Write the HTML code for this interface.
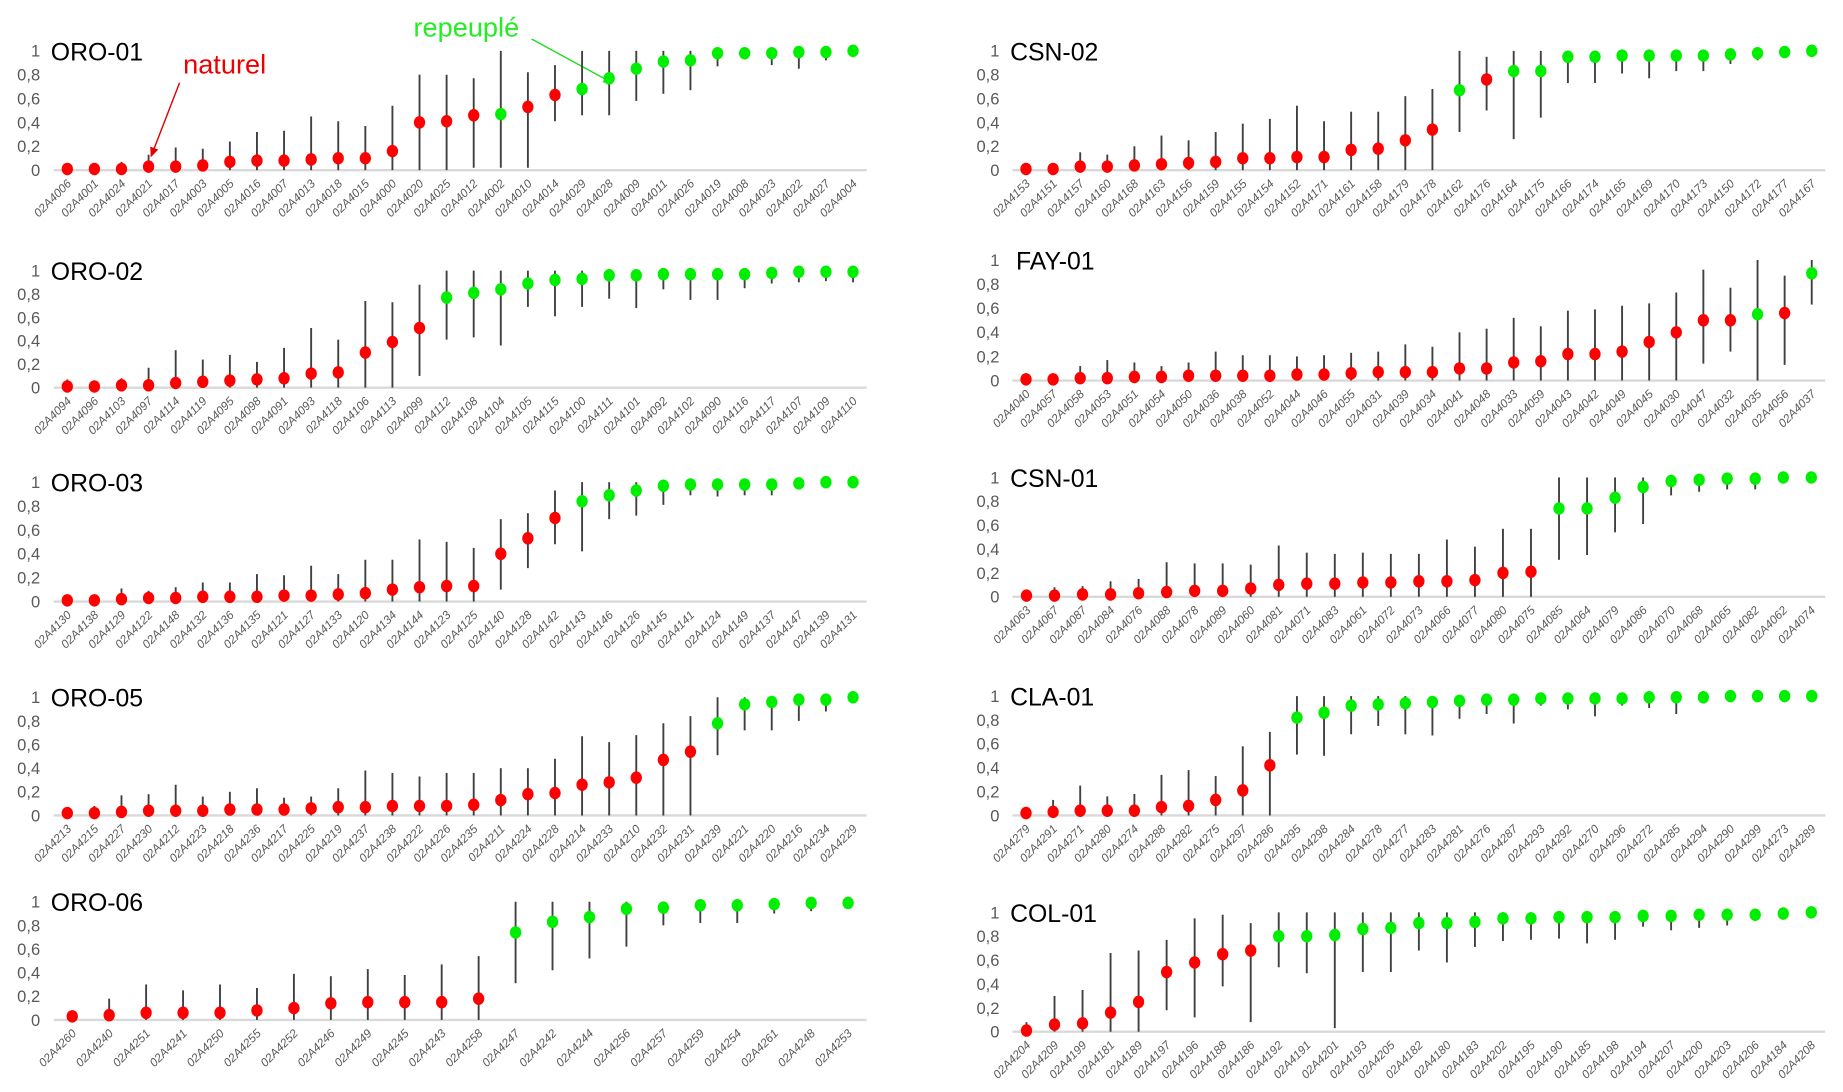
<!DOCTYPE html>
<html><head><meta charset="utf-8"><style>
html,body{margin:0;padding:0;background:#fff;}
svg{display:block;}
</style></head><body>
<svg id="s" width="1843" height="1092" viewBox="0 0 1560 924" preserveAspectRatio="none" xmlns="http://www.w3.org/2000/svg" font-family="Liberation Sans, sans-serif">
<defs>
<marker id="ar" markerWidth="8" markerHeight="8" refX="6" refY="3" orient="auto"><path d="M0,0 L7,3 L0,6 z" fill="#e00000"/></marker>
<marker id="ag" markerWidth="8" markerHeight="8" refX="6" refY="3" orient="auto"><path d="M0,0 L7,3 L0,6 z" fill="#22dd22"/></marker>
</defs>
<text x="155" y="62" font-size="23" fill="#ee0000">naturel</text>
<line x1="152" y1="70" x2="128" y2="132" stroke="#e00000" stroke-width="1.2" marker-end="url(#ar)"/>
<text x="350" y="31" font-size="23" fill="#22ee22">repeuplé</text>
<line x1="450" y1="33" x2="518" y2="70" stroke="#22dd22" stroke-width="1.2" marker-end="url(#ag)"/>
</svg>
<script>
var P=[
{n:"ORO-01",c:0,y0:144,y1:43,L:"4006 4001 4024 4021 4017 4003 4005 4016 4007 4013 4018 4015 4000 4020 4025 4012 4002 4010 4014 4029 4028 4009 4011 4026 4019 4008 4023 4022 4027 4004",
d:"r .01 0 .05;r .01 0 .06;r .01 0 .07;r .03 0 .13;r .03 0 .19;r .04 0 .18;r .07 0 .24;r .08 0 .32;r .08 0 .33;r .09 0 .45;r .10 0 .41;r .10 0 .37;r .16 0 .54;r .40 0 .80;r .41 0 .80;r .46 .02 .77;g .47 .02 1;r .53 .02 .82;r .63 .41 .88;g .68 .46 1;g .77 .46 1;g .85 .58 1;g .91 .64 1;g .92 .67 1;g .98 .87 1;g .98 .94 1;g .98 .88 1;g .99 .85 1;g .99 .92 1;g 1 .98 1"},
{n:"ORO-02",c:0,y0:328,y1:229,L:"4094 4096 4103 4097 4114 4119 4095 4098 4091 4093 4118 4106 4113 4099 4112 4108 4104 4105 4115 4100 4111 4101 4092 4102 4090 4116 4117 4107 4109 4110",
d:"r .01 0 .07;r .01 0 .06;r .02 0 .08;r .02 0 .17;r .04 0 .32;r .05 0 .24;r .06 0 .28;r .07 0 .22;r .08 0 .34;r .12 0 .51;r .13 0 .41;r .30 0 .74;r .39 0 .73;r .51 .10 .88;g .77 .41 1;g .81 .43 1;g .84 .36 1;g .89 .69 1;g .92 .61 1;g .93 .69 1;g .96 .76 1;g .96 .68 1;g .97 .84 1;g .97 .75 1;g .97 .75 1;g .97 .85 1;g .98 .89 1;g .99 .90 1;g .99 .91 1;g .99 .90 1"},
{n:"ORO-03",c:0,y0:509,y1:408,L:"4130 4138 4129 4122 4148 4132 4136 4135 4121 4127 4133 4120 4134 4144 4123 4125 4140 4128 4142 4143 4146 4126 4145 4141 4124 4149 4137 4147 4139 4131",
d:"r .01 0 .03;r .01 0 .05;r .02 0 .11;r .03 0 .09;r .03 0 .12;r .04 0 .16;r .04 0 .16;r .04 0 .23;r .05 0 .22;r .05 0 .30;r .06 0 .23;r .07 0 .35;r .10 0 .35;r .12 0 .52;r .13 0 .50;r .13 0 .45;r .40 .10 .69;r .53 .28 .74;r .70 .48 .93;g .84 .42 1;g .89 .69 1;g .93 .72 1;g .97 .81 1;g .98 .89 1;g .98 .88 1;g .98 .89 1;g .98 .89 1;g .99 .99 1;g 1 1 1;g 1 1 1"},
{n:"ORO-05",c:0,y0:690,y1:590,L:"4213 4215 4227 4230 4212 4223 4218 4236 4217 4225 4219 4237 4238 4222 4226 4235 4211 4224 4228 4214 4233 4210 4232 4231 4239 4221 4220 4216 4234 4229",
d:"r .02 0 .05;r .02 0 .08;r .03 0 .17;r .04 0 .18;r .04 0 .26;r .04 0 .16;r .05 0 .20;r .05 0 .23;r .05 0 .15;r .06 0 .16;r .07 0 .23;r .07 0 .38;r .08 0 .36;r .08 0 .33;r .08 0 .36;r .09 0 .36;r .13 0 .40;r .18 0 .40;r .19 0 .48;r .26 0 .67;r .28 0 .62;r .32 0 .68;r .47 0 .78;r .54 0 .84;g .78 .51 1;g .94 .72 1;g .96 .72 1;g .98 .80 1;g .98 .88 1;g 1 .97 1"},
{n:"ORO-06",c:0,y0:863,y1:763,L:"4260 4240 4251 4241 4250 4255 4252 4246 4249 4245 4243 4258 4247 4242 4244 4256 4257 4259 4254 4261 4248 4253",
d:"r .03 0 .08;r .04 0 .18;r .06 0 .30;r .06 0 .25;r .06 0 .30;r .08 0 .27;r .10 0 .39;r .14 0 .37;r .15 0 .43;r .15 0 .38;r .15 0 .47;r .18 0 .54;g .74 .31 1;g .83 .42 1;g .87 .52 1;g .94 .62 1;g .95 .80 1;g .97 .82 1;g .97 .82 1;g .98 .90 1;g .99 .92 1;g .99 .95 1"},
{n:"CSN-02",c:1,y0:144,y1:43,L:"4153 4151 4157 4160 4168 4163 4156 4159 4155 4154 4152 4171 4161 4158 4179 4178 4162 4176 4164 4175 4166 4174 4165 4169 4170 4173 4150 4172 4177 4167",
d:"r .01 0 .03;r .01 0 .06;r .03 0 .15;r .03 0 .13;r .04 0 .20;r .05 0 .29;r .06 0 .25;r .07 0 .32;r .10 0 .39;r .10 0 .43;r .11 0 .54;r .11 0 .41;r .17 0 .49;r .18 0 .49;r .25 0 .62;r .34 0 .68;g .67 .32 1;r .76 .50 .95;g .83 .26 1;g .83 .44 1;g .95 .73 1;g .95 .73 1;g .96 .81 1;g .96 .77 1;g .96 .83 1;g .96 .83 1;g .97 .89 1;g .98 .92 1;g .99 .95 1;g 1 .99 1"},
{n:"FAY-01",c:1,y0:322,y1:220,tx:860,L:"4040 4057 4058 4053 4051 4054 4050 4036 4038 4052 4044 4046 4055 4031 4039 4034 4041 4048 4033 4059 4043 4042 4049 4045 4030 4047 4032 4035 4056 4037",
d:"r .01 0 .06;r .01 0 .06;r .02 0 .12;r .02 0 .17;r .03 0 .15;r .03 0 .12;r .04 0 .15;r .04 0 .24;r .04 0 .21;r .04 0 .21;r .05 0 .20;r .05 0 .21;r .06 0 .23;r .07 0 .24;r .07 0 .30;r .07 0 .28;r .10 0 .40;r .10 0 .43;r .15 0 .52;r .16 0 .45;r .22 0 .58;r .22 0 .59;r .24 0 .62;r .32 0 .64;r .40 0 .73;r .50 .14 .92;r .50 .24 .77;g .55 0 1;r .56 .13 .87;g .89 .63 1"},
{n:"CSN-01",c:1,y0:505,y1:404,L:"4063 4067 4087 4084 4076 4088 4078 4089 4060 4081 4071 4083 4061 4072 4073 4066 4077 4080 4075 4085 4064 4079 4086 4070 4068 4065 4082 4062 4074",
d:"r .01 0 .04;r .01 0 .08;r .02 0 .09;r .02 0 .13;r .03 0 .15;r .04 0 .29;r .05 0 .28;r .05 0 .28;r .07 0 .27;r .10 0 .43;r .11 0 .37;r .11 0 .36;r .12 0 .37;r .12 0 .36;r .13 0 .36;r .13 0 .48;r .14 0 .42;r .20 0 .57;r .21 0 .57;g .74 .31 1;g .74 .35 1;g .83 .54 1;g .92 .61 1;g .97 .85 1;g .98 .88 1;g .99 .90 1;g .99 .90 1;g 1 .96 1;g 1 1 1"},
{n:"CLA-01",c:1,y0:690,y1:589,L:"4279 4291 4271 4280 4274 4288 4282 4275 4297 4286 4295 4298 4284 4278 4277 4283 4281 4276 4287 4293 4292 4270 4296 4272 4285 4294 4290 4299 4273 4289",
d:"r .02 0 .07;r .03 0 .13;r .04 0 .25;r .04 0 .16;r .04 0 .18;r .07 0 .34;r .08 0 .38;r .13 0 .33;r .21 0 .58;r .42 0 .70;g .82 .51 1;g .86 .50 1;g .92 .68 1;g .93 .75 1;g .94 .68 1;g .95 .67 1;g .96 .81 1;g .97 .85 1;g .97 .77 1;g .98 .92 1;g .98 .89 1;g .98 .83 1;g .98 .92 1;g .99 .90 1;g .99 .85 1;g .99 .95 1;g 1 .97 1;g 1 .97 1;g 1 .95 1;g 1 .98 1"},
{n:"COL-01",c:1,y0:873,y1:772,L:"4204 4209 4199 4181 4189 4197 4196 4188 4186 4192 4191 4201 4193 4205 4182 4180 4183 4202 4195 4190 4185 4198 4194 4207 4200 4203 4206 4184 4208",
d:"r .01 0 .08;r .06 0 .30;r .07 0 .35;r .16 0 .66;r .25 0 .68;r .50 .18 .77;r .58 .12 .95;r .65 .38 .98;r .68 .08 .91;g .80 .54 1;g .80 .49 1;g .81 .03 1;g .86 .50 1;g .87 .50 1;g .91 .68 1;g .91 .58 1;g .92 .71 1;g .95 .76 1;g .95 .77 1;g .96 .78 1;g .96 .74 1;g .96 .77 1;g .97 .88 1;g .97 .85 1;g .98 .87 1;g .98 .89 1;g .98 .93 1;g .99 .94 1;g 1 .97 1"}
];
var h="";
P.forEach(function(p){
 var ax=p.c?857:45.5, W=688, lab=p.c?846:34;
 var L=p.L.split(" "), D=p.d.split(";"), n=L.length, st=W/n;
 function Y(v){return p.y0-(p.y0-p.y1)*v;}
 h+='<line x1="'+ax+'" y1="'+p.y0+'" x2="'+(ax+W)+'" y2="'+p.y0+'" stroke="#d9d9d9" stroke-width="2"/>';
 ["0","0,2","0,4","0,6","0,8","1"].forEach(function(t,i){
  h+='<text x="'+lab+'" y="'+(Y(i*0.2)+5)+'" font-size="14" fill="#595959" text-anchor="end">'+t+'</text>';});
 h+='<text x="'+(p.tx||(p.c?855:43))+'" y="'+(p.y1+8)+'" font-size="21" fill="#000">'+p.n+'</text>';
 for(var i=0;i<n;i++){
  var x=ax+(i+0.5)*st, a=D[i].split(" "), v=+a[1], lo=+a[2], hi=+a[3];
  h+='<line x1="'+x+'" y1="'+Y(lo)+'" x2="'+x+'" y2="'+Y(hi)+'" stroke="#404040" stroke-width="1.6"/>';
  h+='<ellipse cx="'+x+'" cy="'+Y(v)+'" rx="4.8" ry="5.3" fill="'+(a[0]=="r"?"#ff0000":"#00ee00")+'"/>';
  var ly=p.y0+12;
  h+='<text transform="translate('+(x+4)+','+ly+') rotate(-45)" font-size="10" font-style="italic" fill="#595959" text-anchor="end">02A'+L[i]+'</text>';
 }
});
document.getElementById("s").insertAdjacentHTML("beforeend",h);
</script>
</body></html>
